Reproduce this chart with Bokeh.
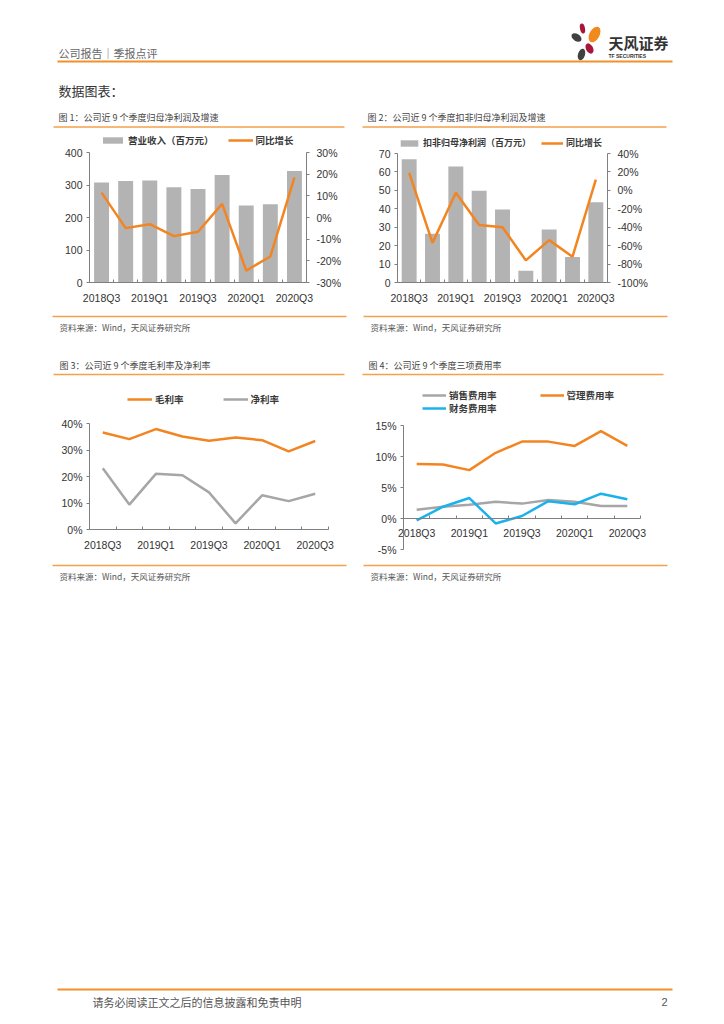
from bokeh.plotting import figure
from bokeh.models import (Range1d, LinearAxis, FixedTicker, PrintfTickFormatter,
                          Legend, LegendItem)
from bokeh.layouts import column, row
from bokeh.core.properties import value
from bokeh.embed import file_html
from bokeh.resources import INLINE

# ---------------- data ----------------
quarters = ["2018Q3", "2018Q4", "2019Q1", "2019Q2", "2019Q3",
            "2019Q4", "2020Q1", "2020Q2", "2020Q3"]
revenue = [308, 312, 314, 293, 288, 331, 237, 241, 343]
revenue_yoy = [11.5, -4.9, -3.1, -8.6, -6.6, 6.3, -24.5, -18.0, 18.5]
np_deducted = [66.9, 26.5, 62.9, 49.8, 39.6, 6.4, 28.7, 13.8, 43.5]
np_deducted_yoy = [18.9, -57.0, -2.5, -37.5, -40.0, -76.0, -54.0, -72.0, 11.6]
gross_margin = [36.6, 34.1, 37.9, 35.1, 33.5, 34.7, 33.7, 29.5, 33.4]
net_margin = [23.1, 9.4, 21.0, 20.5, 14.0, 2.3, 12.9, 10.7, 13.5]
selling_rate = [1.4, 1.9, 2.2, 2.7, 2.4, 3.0, 2.7, 2.0, 2.0]
admin_rate = [8.8, 8.7, 7.8, 10.6, 12.4, 12.4, 11.7, 14.1, 11.7]
finance_rate = [-0.3, 1.9, 3.3, -0.8, 0.4, 2.8, 2.3, 4.0, 3.1]

idx = list(range(1, len(quarters) + 1))
label_overrides = {i: q for i, q in zip(idx, quarters) if (i - 1) % 2 == 0}

CJK = "Noto Sans CJK SC"
NUM = "Liberation Sans"
ORANGE = "#F28522"
RULE = "#F5A04A"
GRAY_BAR = "#B3B3B3"
GRAY_LINE = "#A6A6A6"
BLUE = "#1BB1EC"
AXIS = "#7F7F7F"
PAGE_W = 716


def deco(y0, y1):
    p = figure(width=PAGE_W, height=int(y1 - y0), x_range=Range1d(0, PAGE_W),
               y_range=Range1d(y1, y0), output_backend="svg",
               toolbar_location=None, x_axis_location=None,
               y_axis_location=None, min_border=0)
    p.outline_line_color = None
    p.grid.visible = False
    p.background_fill_color = "white"
    p.border_fill_color = "white"
    return p


def txt(p, x, y, s, size, color="#444444", font=CJK, style="normal", align="left"):
    p.text(x=[x], y=[y], text=[s], text_font=value(font), text_font_size=size,
           text_color=color, text_baseline="middle", text_align=align,
           text_font_style=style)


def hline(p, x0, x1, y, color=RULE, w=1.5):
    p.segment(x0=[x0], y0=[y], x1=[x1], y1=[y], line_color=color, line_width=w)


def style_y(ax, ticks, fmt=None, bounds=None):
    ax.ticker = FixedTicker(ticks=ticks)
    if fmt:
        ax.formatter = PrintfTickFormatter(format=fmt)
    ax.axis_line_color = AXIS
    ax.major_tick_line_color = AXIS
    ax.major_tick_in = 0
    ax.major_tick_out = 3
    ax.minor_tick_line_color = None
    ax.minor_tick_out = 0
    ax.minor_tick_in = 0
    ax.major_label_text_font = NUM
    ax.major_label_text_font_size = "10.5px"
    ax.major_label_text_color = "#333333"
    ax.major_label_standoff = 4
    if bounds is not None:
        ax.bounds = bounds


def style_x(ax):
    ax.ticker = FixedTicker(ticks=[1, 3, 5, 7, 9],
                            minor_ticks=[0.5 + i for i in range(10)])
    ax.major_label_overrides = label_overrides
    ax.axis_line_color = AXIS
    ax.major_tick_line_color = None
    ax.major_tick_in = 0
    ax.major_tick_out = 0
    ax.minor_tick_line_color = AXIS
    ax.minor_tick_in = 3
    ax.minor_tick_out = 0
    ax.major_label_text_font = NUM
    ax.major_label_text_font_size = "10.5px"
    ax.major_label_text_color = "#333333"
    ax.major_label_standoff = 9


def chart(width, height, left, right, top, bottom, x_range, y_range, xloc="below"):
    p = figure(width=width, height=height, x_range=x_range,
               y_range=y_range, output_backend="svg", toolbar_location=None,
               x_axis_location=xloc, frame_align=False,
               min_border_left=left, min_border_right=right,
               min_border_top=top, min_border_bottom=bottom)
    p.outline_line_color = None
    p.grid.visible = False
    p.background_fill_color = "white"
    p.border_fill_color = "white"
    return p


def make_legend(items, loc, spacing, gw=25, size="9.5px"):
    lg = Legend(items=items, location=loc, orientation="horizontal",
                border_line_color=None, background_fill_alpha=0,
                padding=0, margin=0, spacing=spacing, label_standoff=3,
                glyph_width=gw, glyph_height=8, label_height=12,
                label_text_font=CJK, label_text_font_size=size,
                label_text_font_style="bold",
                label_text_color="#3A3A3A")
    return lg


# ---------------- band A: header (page y 0..128) ----------------
bandA = deco(0, 128)
txt(bandA, 58, 52, "公司报告｜季报点评", "11px", color="#666666")
bandA.ellipse(x=[582], y=[28], width=5, height=10, angle=0.2, fill_color="#A8163A", line_color=None)
bandA.ellipse(x=[576], y=[37], width=7, height=11, angle=1.0, fill_color="#404040", line_color=None)
bandA.ellipse(x=[594], y=[34], width=10, height=17, angle=-0.5, fill_color="#F08A1C", line_color=None)
bandA.ellipse(x=[589], y=[48], width=7, height=11, angle=0.5, fill_color="#A8163A", line_color=None)
bandA.ellipse(x=[581], y=[54], width=7, height=12, angle=-0.3, fill_color="#404040", line_color=None)
txt(bandA, 608, 42, "天风证券", "15px", color="#333333", style="bold")
txt(bandA, 608, 55.5, "TF SECURITIES", "5px", color="#333333", font=NUM, style="bold")
hline(bandA, 57, 672, 61, color="#F0912B", w=2)
txt(bandA, 58, 90, "数据图表：", "13px", color="#333333")
txt(bandA, 58, 117, "图 1：公司近 9 个季度归母净利润及增速", "9px")
txt(bandA, 367, 117, "图 2：公司近 9 个季度扣非归母净利润及增速", "9px")
hline(bandA, 53, 344, 126.5)
hline(bandA, 362, 666, 126.5)

# ---------------- chart 1 (page y 128..308, frame 128..282) ----------------
c1 = chart(354, 180, 89, 48, 0, 26, Range1d(0.5, 9.5), Range1d(0, 400 * 154 / 130))
c1.extra_y_ranges = {"yoy": Range1d(-30, -30 + 60 * 154 / 130)}
b1 = c1.vbar(x=idx, top=revenue, width=0.62, fill_color=GRAY_BAR, line_color=None)
l1 = c1.line(x=idx, y=revenue_yoy, y_range_name="yoy", line_color=ORANGE, line_width=2.5)
style_y(c1.yaxis[0], [0, 100, 200, 300, 400], bounds=(0, 400))
ax1r = LinearAxis(y_range_name="yoy")
c1.add_layout(ax1r, "right")
style_y(ax1r, [-30, -20, -10, 0, 10, 20, 30], fmt="%d%%", bounds=(-30, 30))
ax1r.major_label_standoff = 7
style_x(c1.xaxis[0])
c1.add_layout(make_legend([LegendItem(label="营业收入（百万元）", renderers=[b1]),
                           LegendItem(label="同比增长", renderers=[l1])], (11, 135), 14))

# ---------------- chart 2 ----------------
c2 = chart(362, 180, 43, 109, 0, 26, Range1d(0.5, 9.5), Range1d(0, 70 * 154 / 129))
c2.extra_y_ranges = {"yoy": Range1d(-100, -100 + 140 * 154 / 129)}
b2 = c2.vbar(x=idx, top=np_deducted, width=0.64, fill_color=GRAY_BAR, line_color=None)
l2 = c2.line(x=idx, y=np_deducted_yoy, y_range_name="yoy", line_color=ORANGE, line_width=2.5)
style_y(c2.yaxis[0], [0, 10, 20, 30, 40, 50, 60, 70], bounds=(0, 70))
ax2r = LinearAxis(y_range_name="yoy")
c2.add_layout(ax2r, "right")
style_y(ax2r, [-100, -80, -60, -40, -20, 0, 20, 40], fmt="%d%%", bounds=(-100, 40))
ax2r.major_label_standoff = 7
style_x(c2.xaxis[0])
c2.add_layout(make_legend([LegendItem(label="扣非归母净利润（百万元）", renderers=[b2]),
                           LegendItem(label="同比增长", renderers=[l2])], (1, 133), 10,
                          gw=22, size="9px"))

# ---------------- band C (page y 308..376) ----------------
bandC = deco(308, 376)
hline(bandC, 52, 346, 316)
hline(bandC, 363, 667, 316)
txt(bandC, 59, 326.5, "资料来源：Wind，天风证券研究所", "8.5px", color="#555555")
txt(bandC, 370, 326.5, "资料来源：Wind，天风证券研究所", "8.5px", color="#555555")
txt(bandC, 59, 365, "图 3：公司近 9 个季度毛利率及净利率", "9px")
txt(bandC, 368, 365, "图 4：公司近 9 个季度三项费用率", "9px")
hline(bandC, 53, 344, 374)
hline(bandC, 362, 663, 374)

# ---------------- chart 3 (page y 376..560, frame 376..529) ----------------
c3 = chart(340, 184, 89, 12, 0, 31, Range1d(0.5, 9.5), Range1d(0, 40 * 153 / 106))
l3a = c3.line(x=idx, y=gross_margin, line_color=ORANGE, line_width=2.5)
l3b = c3.line(x=idx, y=net_margin, line_color=GRAY_LINE, line_width=2.5)
style_y(c3.yaxis[0], [0, 10, 20, 30, 40], fmt="%d%%", bounds=(0, 40))
style_x(c3.xaxis[0])
c3.add_layout(make_legend([LegendItem(label="毛利率", renderers=[l3a]),
                           LegendItem(label="净利率", renderers=[l3b])], (38, 123), 39))

# ---------------- chart 4 (canvas x 340..716, frame x 374..650, y 376..557) ----------------
PXU = 26.33   # pixels per category
PXP = 6.2     # pixels per percent
c4 = chart(376, 184, 34, 66, 0, 3,
           Range1d(0.5 - (403 - 374) / PXU, 9.5 + (650 - 640) / PXU),
           Range1d(-5 - (557 - 549) / PXP, 15 + (425 - 376) / PXP), xloc="above")
l4a = c4.line(x=idx, y=selling_rate, line_color=GRAY_LINE, line_width=2.5)
l4b = c4.line(x=idx, y=admin_rate, line_color=ORANGE, line_width=2.5)
l4c = c4.line(x=idx, y=finance_rate, line_color=BLUE, line_width=2.5)
ax4y = c4.yaxis[0]
style_y(ax4y, [-5, 0, 5, 10, 15], fmt="%d%%", bounds=(-5, 15))
ax4y.fixed_location = 0.5
ax4x = c4.xaxis[0]
style_x(ax4x)
ax4x.fixed_location = 0
ax4x.bounds = (0.5, 9.5)
ax4x.minor_tick_in = 0
ax4x.minor_tick_out = 3
ax4x.major_label_standoff = -23
c4.add_layout(make_legend([LegendItem(label="销售费用率", renderers=[l4a]),
                           LegendItem(label="管理费用率", renderers=[l4b])], (48, 155), 43, gw=24))
c4.add_layout(make_legend([LegendItem(label="财务费用率", renderers=[l4c])], (48, 142), 43, gw=24))

# ---------------- band E: sources + footer (page y 560..1024) ----------------
bandE = deco(560, 1024)
hline(bandE, 52, 346, 565)
hline(bandE, 363, 667, 565)
txt(bandE, 59, 575.5, "资料来源：Wind，天风证券研究所", "8.5px", color="#555555")
txt(bandE, 370, 575.5, "资料来源：Wind，天风证券研究所", "8.5px", color="#555555")
hline(bandE, 57, 672, 989, color="#F0912B", w=2)
txt(bandE, 92, 1001, "请务必阅读正文之后的信息披露和免责申明", "11px", color="#555555")
txt(bandE, 667, 1001, "2", "11px", color="#555555", font=NUM, align="right")

layout = column(bandA, row(c1, c2), bandC, row(c3, c4), bandE)

open("out.html", "w").write(file_html(layout, INLINE))
